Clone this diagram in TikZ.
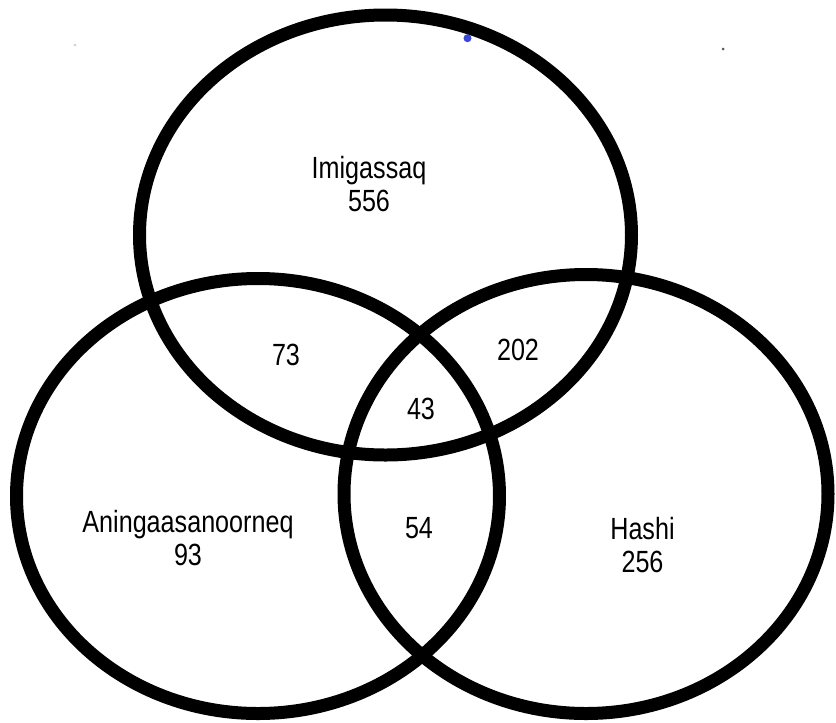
\documentclass[tikz,border=0pt]{standalone}
\usepackage{fontspec}
\setmainfont[FakeStretch=0.82]{Liberation Sans}
\usetikzlibrary{positioning}
\definecolor{dotblue}{HTML}{3A46D6}

\begin{document}
\begin{tikzpicture}[
  x=0.75pt,y=-0.75pt,
  ring/.style={draw=black,line width=9.75pt},
  lbl/.style={align=center,inner sep=0pt,font=\fontsize{23}{24.5}\selectfont}
]
\useasboundingbox (0,0) rectangle (836,722);
\draw[ring] (385.5,235) ellipse [x radius=246,y radius=220];
\draw[ring] (258,496) ellipse [x radius=241.5,y radius=217.5];
\draw[ring] (586,494) ellipse [x radius=242,y radius=219.5];
\node[lbl] (imi) at (369,184) {Imigassaq\\556};
\node[lbl] (ani) at (188,538) {Aningaasanoorneq\\93};
\node[lbl] (has) at (642.5,545) {Hashi\\256};
\node[lbl] (imiani) at (286,355) {73};
\node[lbl] (imihas) at (518,350) {202};
\node[lbl] (all) at (421,409) {43};
\node[lbl] (anihas) at (419,528.5) {54};
\fill[dotblue] (467.5,38.2) circle [radius=4];
\fill[gray!35] (75,45) circle [radius=1.5];
\fill[gray!70!black] (723,49) circle [radius=1.5];
\end{tikzpicture}
\end{document}
